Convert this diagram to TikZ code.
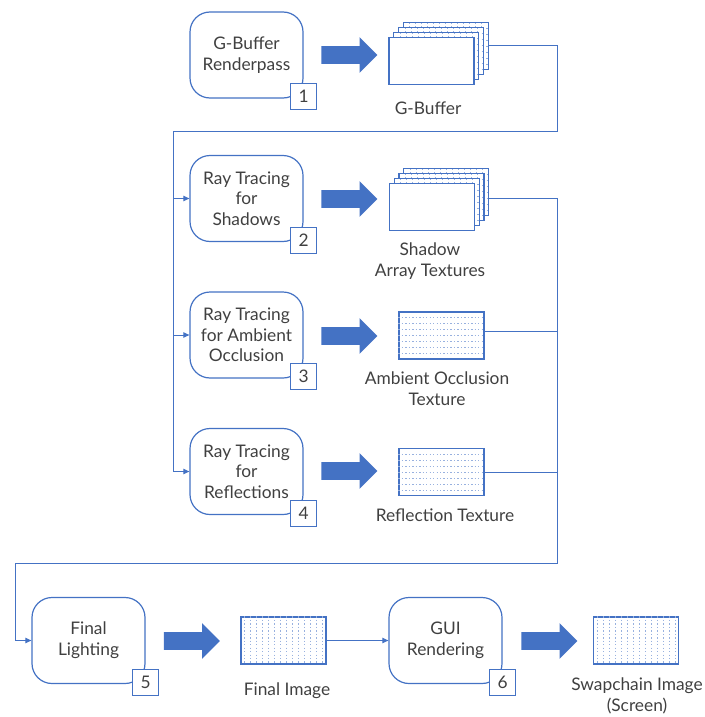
\documentclass[tikz,border=0pt]{standalone}
\usepackage{fontspec}
\setmainfont{Lato}
\usetikzlibrary{positioning,shapes.arrows,arrows.meta}
\definecolor{office}{HTML}{4472C4}
\definecolor{ink}{HTML}{404040}
\newcommand{\labelfont}{\fontsize{13}{15.5}\selectfont}
% texture stack: name, x, y of the front layer
\newcommand{\texstack}[3]{
    \foreach \i in {3,2,1}{
        \begin{scope}[shift={(#2+4.7*\i,#3-5*\i)}]
            \fill[white] (-42.5,-23.5) rectangle (42.5,23.5);
            \foreach \gx in {-36,-30,...,36} \draw[dotgrid] (\gx,-23.5) -- (\gx,23.5);
            \foreach \gy in {-18,-12,...,18} \draw[dotgrid] (-42.5,\gy) -- (42.5,\gy);
            \draw[texedge] (-42.5,-23.5) rectangle (42.5,23.5);
        \end{scope}
    }
    \coordinate (#1-b) at (#2+14.1+42.5,#3-15);
    \node[texture] (#1) at (#2,#3) {};
}
\tikzset{
            pass/.style={draw=office, line width=0.9pt, rounded corners=15pt, fill=white,
                         minimum width=84.75pt, minimum height=64.5pt, align=center,
                         text=ink, font=\labelfont},
            tag/.style={draw=office, line width=0.9pt, fill=white, minimum size=19.5pt,
                        inner sep=0pt, text=ink, font=\labelfont},
            texture/.style={draw=office, line width=0.9pt, fill=white,
                            minimum width=63.75pt, minimum height=35.25pt, inner sep=0pt},
            texedge/.style={draw=office, line width=0.9pt},
            dotgrid/.style={office!55, line width=0.4pt, dash pattern=on 1pt off 1.6pt},
            caption/.style={align=center, text=ink, font=\labelfont},
            bigarrow/.style={single arrow, fill=office, draw=none, inner sep=6.375pt,
                             minimum height=42pt, single arrow head extend=6.75pt},
            link/.style={draw=office, line width=0.75pt},
            feed/.style={link, -{Triangle[length=4.5pt,width=4pt]}}
        }

\begin{document}
\begin{tikzpicture}[x=0.75pt, y=-0.75pt]
    \useasboundingbox (0,0) rectangle (705,717);

    % render passes
    \node[pass] (b1) at (246.5,55) {G-Buffer\\Renderpass};
    \node[pass] (b2) at (246.5,198.5) {Ray Tracing\\for\\Shadows};
    \node[pass] (b3) at (246.5,335) {Ray Tracing\\for Ambient\\Occlusion};
    \node[pass] (b4) at (246.5,471.5) {Ray Tracing\\for\\Reflections};
    \node[pass] (b5) at (88.5,640.5) {Final\\Lighting};
    \node[pass] (b6) at (445.5,640.5) {GUI\\Rendering};
    \foreach \n in {1,...,6}
        \node[tag] (t\n) at ([yshift=1.5pt]b\n.south east) {\n};

    % big arrows
    \node[bigarrow] (a1) at (345,55) {};
    \node[bigarrow] (a2) at (345,199) {};
    \node[bigarrow] (a3) at (345,336) {};
    \node[bigarrow] (a4) at (345,471) {};
    \node[bigarrow] (a5) at (187.5,641) {};
    \node[bigarrow] (a6) at (545,641) {};

    % images
    \texstack{gbuf}{431.5}{61}
    \texstack{shadow}{432}{207}
    \node[texture] (ao) at (441.5,335.5) {};
    \foreach \gy in {-18,-12,...,18} \draw[dotgrid] ([yshift=-\gy*0.75pt]ao.west) -- ([yshift=-\gy*0.75pt]ao.east);
    \node[texture] (refl) at (441.5,472) {};
    \foreach \gy in {-18,-12,...,18} \draw[dotgrid] ([yshift=-\gy*0.75pt]refl.west) -- ([yshift=-\gy*0.75pt]refl.east);
    \node[texture] (final) at (283.5,640.5) {};
    \foreach \gx in {-39,-33,...,39} \draw[dotgrid] ([xshift=\gx*0.75pt]final.north) -- ([xshift=\gx*0.75pt]final.south);
    \node[texture] (swap) at (636,640.5) {};
    \foreach \gx in {-39,-33,...,39} \draw[dotgrid] ([xshift=\gx*0.75pt]swap.north) -- ([xshift=\gx*0.75pt]swap.south);

    \node[caption] (gbuf-cap) at (428,108) {G-Buffer};
    \node[caption] (shadow-cap) at (430,261) {Shadow\\Array Textures};
    \node[caption] (ao-cap) at (437,389) {Ambient Occlusion\\Texture};
    \node[caption] (refl-cap) at (445,515) {Reflection Texture};
    \node[caption] (final-cap) at (287,691) {Final Image};
    \node[caption] (swap-cap) at (637,696) {Swapchain Image\\(Screen)};

    % connectors
    \coordinate (busR) at (557,131);
    \coordinate (busL) at (173,131);
    \coordinate (bus2R) at (557,563);
    \coordinate (bus2L) at (15,563);
    \draw[feed] (gbuf-b) -| (busR) -- (busL) |- (b4.west);
    \draw[feed] (busL |- b2.west) -- (b2.west);
    \draw[feed] (busL |- b3.west) -- (b3.west);
    \draw[feed] ([yshift=-5pt]shadow-b) -| (bus2R) -- (bus2L) |- (b5.west);
    \draw[link] ([yshift=3pt]ao.east) -- ([yshift=3pt]ao.east -| bus2R);
    \draw[link] (refl.east) -- (refl.east -| bus2R);
    \draw[feed] (final.east) -- (b6.west);
\end{tikzpicture}
\end{document}
